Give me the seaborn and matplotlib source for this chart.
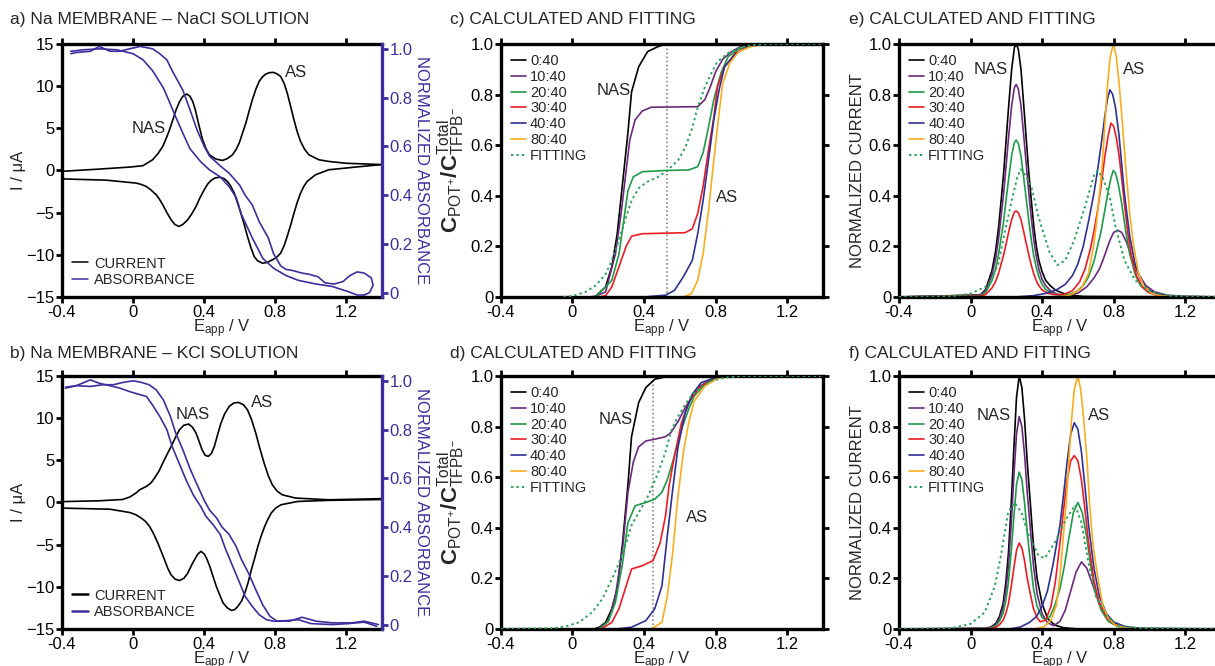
import numpy as np
import pandas as pd
import matplotlib
matplotlib.use("Agg")
import matplotlib.pyplot as plt
import seaborn as sns
from matplotlib.lines import Line2D

# ---------------- data ----------------
# a) Na membrane - NaCl solution, CV (forward / reverse) + absorbance (two branches)
a_fwd_E = [-0.40,-0.20,-0.02,0.055,0.11,0.14,0.167,0.19,0.205,0.225,0.242,0.26,0.279,0.302,0.32,0.335,0.35,0.363,0.377,0.391,0.41,0.429,0.466,0.503,0.53,0.559,0.58,0.597,0.615,0.634,0.652,0.671,0.69,0.709,0.728,0.746,0.768,0.789,0.81,0.83,0.85,0.867,0.886,0.905,0.923,0.942,0.965,0.989,1.045,1.10,1.20,1.40]
a_fwd_I = [-0.1,0.15,0.4,0.56,1.27,2.0,2.85,4.0,4.83,6.1,7.2,8.1,8.78,9.06,8.8,8.2,7.2,6.0,4.8,3.64,2.6,1.86,1.35,1.19,1.4,1.86,2.5,3.25,4.4,5.6,7.0,8.4,9.6,10.56,11.1,11.43,11.6,11.63,11.45,11.15,10.3,9.18,7.6,6.0,4.6,3.44,2.5,1.86,1.27,1.07,0.85,0.7]
a_rev_E = [1.40,1.25,1.10,1.026,0.979,0.96,0.942,0.923,0.905,0.886,0.867,0.85,0.83,0.805,0.783,0.755,0.727,0.70,0.681,0.662,0.643,0.625,0.606,0.587,0.569,0.55,0.531,0.51,0.485,0.46,0.438,0.42,0.40,0.377,0.354,0.33,0.307,0.28,0.257,0.235,0.214,0.19,0.167,0.148,0.13,0.10,0.074,0.045,0.018,-0.02,-0.15,-0.40]
a_rev_I = [0.7,0.4,0.08,-0.51,-1.3,-1.9,-2.68,-3.8,-5.06,-6.5,-7.8,-8.9,-9.8,-10.35,-10.6,-10.9,-11.0,-10.7,-10.2,-9.1,-7.8,-6.4,-5.06,-3.8,-2.68,-1.9,-1.3,-0.95,-0.79,-0.9,-1.19,-1.6,-2.29,-3.2,-4.27,-5.15,-5.85,-6.4,-6.64,-6.4,-5.85,-5.0,-4.07,-3.4,-2.88,-2.3,-1.9,-1.65,-1.5,-1.42,-1.15,-1.0]
a_abs1_E = [-0.35,-0.28,-0.19,-0.09,0.00,0.056,0.11,0.17,0.20,0.24,0.28,0.32,0.38,0.43,0.49,0.54,0.58,0.61,0.67,0.73,0.79,0.86,0.93,1.03,1.12,1.21,1.26,1.30]
a_abs1_A = [0.99,0.996,1.0,0.996,0.98,0.955,0.91,0.84,0.79,0.72,0.654,0.59,0.537,0.503,0.475,0.435,0.39,0.32,0.225,0.14,0.10,0.07,0.05,0.035,0.025,0.004,-0.01,-0.01]
a_abs2_E = [1.30,1.33,1.35,1.34,1.30,1.26,1.22,1.18,1.13,1.08,1.04,0.99,0.95,0.90,0.86,0.83,0.79,0.76,0.71,0.67,0.63,0.60,0.54,0.49,0.43,0.40,0.36,0.32,0.28,0.22,0.19,0.15,0.11,0.04,-0.02,-0.075,-0.13,-0.19,-0.24,-0.32,-0.35]
a_abs2_A = [-0.01,0.0,0.03,0.06,0.08,0.085,0.07,0.045,0.035,0.04,0.065,0.075,0.08,0.09,0.095,0.11,0.16,0.225,0.29,0.36,0.40,0.44,0.49,0.52,0.56,0.60,0.667,0.75,0.83,0.91,0.955,0.98,1.0,1.01,1.0,0.99,0.99,1.01,0.99,0.985,0.98]

# b) Na membrane - KCl solution
b_fwd_E = [-0.40,-0.19,-0.06,-0.019,0.015,0.037,0.074,0.10,0.121,0.145,0.167,0.19,0.214,0.238,0.261,0.285,0.313,0.335,0.354,0.372,0.388,0.405,0.423,0.44,0.457,0.475,0.494,0.515,0.541,0.567,0.593,0.62,0.643,0.665,0.69,0.713,0.737,0.76,0.783,0.81,0.839,0.914,1.10,1.40]
b_fwd_I = [0.1,0.2,0.35,0.64,1.1,1.5,1.9,2.3,2.9,3.7,4.67,5.65,6.64,7.7,8.62,9.15,9.3,8.9,8.23,7.2,6.25,5.6,5.46,5.8,6.64,8.0,9.4,10.5,11.4,11.8,11.86,11.6,11.0,9.9,8.23,6.4,4.67,3.2,2.1,1.35,0.91,0.52,0.32,0.45]
b_rev_E = [1.40,1.10,0.926,0.832,0.80,0.777,0.758,0.74,0.72,0.702,0.684,0.665,0.647,0.628,0.61,0.59,0.572,0.553,0.53,0.506,0.488,0.469,0.45,0.432,0.415,0.40,0.382,0.365,0.345,0.325,0.307,0.285,0.261,0.237,0.214,0.195,0.177,0.158,0.139,0.115,0.093,0.07,0.046,0.015,-0.019,-0.13,-0.40]
b_rev_I = [0.35,0.25,0.12,-0.27,-0.7,-1.26,-2.0,-2.85,-4.0,-5.2,-6.6,-8.0,-9.5,-10.75,-11.7,-12.3,-12.7,-12.8,-12.5,-11.9,-11.0,-10.0,-8.8,-7.6,-6.7,-6.1,-5.8,-6.1,-6.8,-7.6,-8.4,-9.0,-9.25,-9.1,-8.6,-7.8,-6.8,-5.8,-4.8,-3.7,-2.85,-2.25,-1.85,-1.45,-1.19,-0.8,-0.67]
b_abs1_E = [-0.38,-0.32,-0.24,-0.19,-0.13,-0.075,-0.02,0.04,0.075,0.11,0.15,0.19,0.22,0.26,0.30,0.34,0.38,0.41,0.45,0.49,0.52,0.56,0.60,0.63,0.67,0.71,0.75,0.79,0.86,0.93,1.00,1.12,1.21,1.30,1.37]
b_abs1_A = [0.97,0.98,1.004,0.99,0.98,0.97,0.956,0.943,0.936,0.90,0.854,0.80,0.73,0.66,0.59,0.53,0.485,0.444,0.41,0.37,0.31,0.24,0.17,0.116,0.075,0.04,0.02,0.014,0.016,0.02,0.004,0.0,0.004,0.01,-0.007]
b_abs2_E = [1.38,1.30,1.23,1.12,1.03,0.95,0.88,0.81,0.77,0.73,0.69,0.65,0.61,0.58,0.54,0.50,0.47,0.43,0.40,0.36,0.32,0.28,0.24,0.21,0.17,0.13,0.09,0.04,0.00,-0.06,-0.11,-0.17,-0.24,-0.32,-0.38]
b_abs2_A = [0.0,0.014,0.007,0.007,0.014,0.03,0.014,0.014,0.034,0.08,0.143,0.21,0.266,0.32,0.37,0.40,0.437,0.47,0.51,0.574,0.64,0.717,0.785,0.854,0.922,0.963,0.984,0.995,1.0,0.993,0.984,0.984,0.977,0.98,0.974]

ratios = ["0:40", "10:40", "20:40", "30:40", "40:40", "80:40"]

# c) calculated C_POT+/C_TFPB- (NaCl)
c_E = [
    [-0.4,0.10,0.13,0.185,0.22,0.25,0.28,0.31,0.33,0.37,0.42,0.48,0.527,1.4],
    [-0.4,0.12,0.185,0.24,0.27,0.30,0.32,0.35,0.39,0.44,0.70,0.74,0.77,0.80,0.84,0.89,0.94,1.03,1.4],
    [-0.4,0.13,0.22,0.26,0.29,0.31,0.34,0.39,0.52,0.65,0.70,0.73,0.76,0.79,0.83,0.87,0.93,1.00,1.4],
    [-0.4,0.15,0.185,0.22,0.26,0.30,0.33,0.39,0.63,0.67,0.70,0.73,0.76,0.79,0.81,0.85,0.91,0.98,1.07,1.4],
    [-0.4,0.40,0.52,0.57,0.62,0.67,0.70,0.73,0.76,0.79,0.82,0.85,0.91,0.98,1.07,1.4],
    [-0.4,0.62,0.665,0.70,0.73,0.76,0.79,0.82,0.84,0.88,0.93,1.00,1.07,1.4],
]
c_V = [
    [0,0,0.003,0.04,0.12,0.25,0.45,0.65,0.81,0.91,0.97,0.99,1.0,1.0],
    [0,0,0.02,0.17,0.32,0.5,0.62,0.70,0.735,0.75,0.752,0.78,0.83,0.89,0.94,0.97,0.99,1.0,1.0],
    [0,0,0.066,0.17,0.32,0.42,0.475,0.495,0.5,0.502,0.515,0.57,0.67,0.78,0.885,0.95,0.98,0.995,1.0],
    [0,0,0.005,0.04,0.12,0.2,0.24,0.25,0.254,0.27,0.33,0.436,0.58,0.71,0.83,0.91,0.964,0.99,1.0,1.0],
    [0,0,0.007,0.026,0.08,0.145,0.25,0.38,0.54,0.70,0.82,0.91,0.96,0.99,1.0,1.0],
    [0,0,0.013,0.066,0.17,0.34,0.54,0.73,0.845,0.925,0.97,0.99,1.0,1.0],
]
c_fit_E = [-0.05,0.0,0.074,0.13,0.185,0.22,0.26,0.30,0.33,0.37,0.42,0.48,0.53,0.59,0.63,0.67,0.70,0.74,0.78,0.81,0.87,0.93,1.0,1.1,1.4]
c_fit_V = [0,0.004,0.02,0.046,0.09,0.145,0.225,0.317,0.38,0.43,0.456,0.475,0.5,0.54,0.59,0.67,0.75,0.83,0.89,0.93,0.964,0.984,0.995,1.0,1.0]
c_cut = 0.527

# d) calculated (KCl)
d_E = [
    [-0.4,0.12,0.15,0.185,0.22,0.25,0.28,0.31,0.33,0.37,0.41,0.46,0.52,0.57,1.4],
    [-0.4,0.14,0.20,0.24,0.28,0.31,0.34,0.37,0.41,0.46,0.52,0.55,0.59,0.63,0.67,0.70,0.76,0.81,0.9,1.4],
    [-0.4,0.15,0.20,0.24,0.28,0.31,0.35,0.41,0.46,0.50,0.53,0.57,0.61,0.65,0.68,0.74,0.81,0.9,1.4],
    [-0.4,0.16,0.22,0.26,0.30,0.33,0.39,0.45,0.49,0.52,0.54,0.57,0.61,0.65,0.70,0.77,0.85,1.4],
    [-0.4,0.25,0.33,0.41,0.46,0.50,0.53,0.56,0.59,0.63,0.67,0.72,0.80,0.9,1.4],
    [-0.4,0.44,0.50,0.53,0.56,0.59,0.62,0.65,0.68,0.74,0.81,0.89,1.4],
]
d_V = [
    [0,0,0.007,0.026,0.08,0.16,0.34,0.57,0.76,0.895,0.954,0.987,0.996,1.0,1.0],
    [0,0,0.03,0.13,0.316,0.54,0.66,0.72,0.743,0.75,0.76,0.776,0.82,0.875,0.92,0.954,0.98,0.993,1.0,1.0],
    [0,0,0.03,0.105,0.26,0.42,0.487,0.5,0.513,0.54,0.59,0.684,0.79,0.87,0.92,0.967,0.993,1.0,1.0],
    [0,0,0.026,0.08,0.17,0.237,0.25,0.27,0.34,0.447,0.566,0.684,0.816,0.895,0.947,0.987,0.998,1.0],
    [0,0,0.007,0.033,0.08,0.17,0.368,0.55,0.72,0.855,0.928,0.974,0.993,1.0,1.0],
    [0,0,0.026,0.13,0.30,0.526,0.70,0.816,0.90,0.96,0.99,1.0,1.0],
]
d_fit_E = [-0.4,-0.11,-0.04,0.037,0.11,0.166,0.22,0.26,0.30,0.33,0.37,0.41,0.44,0.48,0.52,0.55,0.59,0.65,0.70,0.77,0.85,0.95,1.4]
d_fit_V = [0,0.003,0.01,0.026,0.066,0.118,0.197,0.26,0.34,0.41,0.46,0.507,0.553,0.62,0.70,0.78,0.84,0.91,0.947,0.98,0.993,1.0,1.0]
d_cut = 0.452

# e) normalized current (NaCl)
e_E = [
    [-0.4,0.055,0.085,0.12,0.14,0.157,0.171,0.185,0.199,0.213,0.23,0.245,0.255,0.267,0.282,0.298,0.312,0.326,0.34,0.354,0.368,0.382,0.40,0.42,0.445,0.475,0.515,0.555,0.635,1.4],
    [-0.4,0.055,0.085,0.12,0.14,0.157,0.171,0.185,0.199,0.213,0.23,0.245,0.255,0.267,0.282,0.298,0.312,0.326,0.34,0.354,0.368,0.382,0.40,0.42,0.45,0.49,0.54,0.60,0.65,0.69,0.72,0.74,0.76,0.78,0.80,0.822,0.845,0.87,0.89,0.91,0.94,0.98,1.03,1.1,1.2,1.4],
    [-0.4,0.055,0.085,0.12,0.14,0.157,0.171,0.185,0.199,0.213,0.23,0.245,0.255,0.267,0.282,0.298,0.312,0.326,0.34,0.354,0.368,0.382,0.40,0.42,0.45,0.49,0.54,0.59,0.63,0.66,0.69,0.71,0.73,0.75,0.77,0.785,0.798,0.81,0.825,0.845,0.87,0.89,0.92,0.95,0.99,1.04,1.1,1.4],
    [-0.4,0.055,0.085,0.12,0.14,0.157,0.171,0.185,0.199,0.213,0.23,0.245,0.255,0.267,0.282,0.298,0.312,0.326,0.34,0.354,0.368,0.382,0.40,0.43,0.47,0.52,0.57,0.61,0.64,0.67,0.69,0.71,0.73,0.75,0.77,0.785,0.80,0.815,0.83,0.845,0.86,0.88,0.90,0.93,0.96,1.0,1.05,1.12,1.4],
    [-0.4,0.25,0.35,0.42,0.48,0.53,0.57,0.60,0.63,0.66,0.69,0.71,0.73,0.75,0.765,0.779,0.795,0.81,0.83,0.86,0.89,0.92,0.95,0.99,1.04,1.1,1.2,1.4],
    [-0.4,0.5,0.56,0.62,0.66,0.69,0.71,0.734,0.75,0.765,0.78,0.798,0.815,0.83,0.85,0.869,0.89,0.91,0.94,0.97,1.01,1.06,1.13,1.2,1.4],
]
e_V = [
    [0,0.008,0.03,0.105,0.18,0.277,0.38,0.489,0.62,0.753,0.9,0.985,1.0,0.98,0.9,0.753,0.62,0.489,0.38,0.277,0.2,0.145,0.1,0.066,0.045,0.027,0.015,0.007,0.002,0],
    [0,0.007,0.025,0.088,0.15,0.233,0.32,0.41,0.52,0.633,0.756,0.827,0.84,0.823,0.756,0.633,0.52,0.41,0.31,0.225,0.16,0.11,0.07,0.045,0.022,0.01,0.006,0.015,0.04,0.075,0.11,0.145,0.185,0.225,0.255,0.264,0.255,0.22,0.18,0.14,0.09,0.045,0.02,0.007,0.002,0],
    [0,0.005,0.019,0.065,0.11,0.17,0.235,0.3,0.385,0.467,0.56,0.61,0.62,0.607,0.558,0.467,0.385,0.3,0.225,0.16,0.115,0.08,0.05,0.03,0.015,0.008,0.008,0.02,0.045,0.08,0.14,0.2,0.26,0.34,0.42,0.47,0.5,0.49,0.45,0.37,0.25,0.17,0.09,0.045,0.02,0.007,0.002,0],
    [0,0.003,0.01,0.036,0.061,0.094,0.13,0.166,0.21,0.256,0.306,0.335,0.34,0.333,0.306,0.256,0.21,0.166,0.125,0.09,0.063,0.045,0.028,0.015,0.009,0.01,0.025,0.06,0.11,0.19,0.26,0.34,0.44,0.55,0.64,0.687,0.675,0.63,0.56,0.47,0.37,0.25,0.16,0.08,0.04,0.016,0.006,0.002,0],
    [0,0,0.005,0.014,0.028,0.05,0.085,0.13,0.2,0.3,0.41,0.5,0.6,0.71,0.78,0.819,0.8,0.75,0.64,0.41,0.24,0.13,0.07,0.03,0.012,0.004,0.001,0],
    [0,0,0.008,0.035,0.094,0.21,0.33,0.5,0.67,0.83,0.946,1.0,0.95,0.85,0.68,0.5,0.33,0.21,0.09,0.043,0.015,0.005,0.001,0,0],
]
e_fit_E = [-0.4,-0.1,0.0,0.1,0.155,0.19,0.23,0.26,0.28,0.30,0.34,0.38,0.44,0.485,0.53,0.58,0.64,0.69,0.71,0.74,0.78,0.81,0.86,0.92,1.0,1.11,1.4]
e_fit_V = [0,0.003,0.013,0.046,0.13,0.25,0.38,0.47,0.505,0.49,0.436,0.317,0.18,0.126,0.145,0.225,0.357,0.48,0.5,0.47,0.39,0.28,0.145,0.066,0.024,0.005,0]

# f) normalized current (KCl)
f_E = [
    [-0.4,0.08,0.112,0.142,0.162,0.182,0.197,0.212,0.228,0.242,0.257,0.272,0.287,0.302,0.317,0.334,0.352,0.372,0.40,0.432,0.472,0.52,0.6,1.4],
    [-0.4,0.08,0.112,0.142,0.162,0.182,0.197,0.212,0.228,0.242,0.257,0.272,0.287,0.302,0.317,0.334,0.352,0.372,0.40,0.43,0.465,0.50,0.53,0.56,0.59,0.62,0.65,0.68,0.72,0.76,0.8,0.87,1.0,1.4],
    [-0.4,0.08,0.112,0.142,0.162,0.182,0.197,0.212,0.228,0.242,0.257,0.272,0.287,0.302,0.317,0.334,0.352,0.372,0.40,0.42,0.445,0.47,0.50,0.525,0.55,0.575,0.60,0.625,0.65,0.672,0.70,0.73,0.77,0.82,0.9,1.4],
    [-0.4,0.08,0.112,0.142,0.162,0.182,0.197,0.212,0.228,0.242,0.257,0.272,0.287,0.302,0.317,0.334,0.352,0.372,0.39,0.42,0.45,0.475,0.50,0.52,0.54,0.56,0.58,0.60,0.62,0.64,0.66,0.69,0.72,0.76,0.8,0.86,0.95,1.4],
    [-0.4,0.22,0.28,0.33,0.37,0.40,0.43,0.46,0.48,0.50,0.52,0.54,0.56,0.58,0.60,0.62,0.64,0.66,0.69,0.72,0.76,0.8,0.86,0.95,1.4],
    [-0.4,0.36,0.41,0.45,0.48,0.50,0.515,0.535,0.55,0.565,0.58,0.60,0.615,0.63,0.65,0.665,0.685,0.71,0.74,0.77,0.81,0.86,0.93,1.4],
]
f_V = [
    [0,0.002,0.007,0.022,0.05,0.1,0.18,0.3,0.5,0.71,0.915,1.0,0.955,0.83,0.66,0.5,0.33,0.2,0.1,0.04,0.015,0.005,0,0],
    [0,0.002,0.006,0.018,0.042,0.084,0.15,0.25,0.42,0.6,0.77,0.84,0.8,0.69,0.54,0.4,0.25,0.14,0.06,0.025,0.013,0.03,0.075,0.15,0.225,0.265,0.24,0.18,0.105,0.05,0.025,0.007,0,0],
    [0,0.001,0.004,0.014,0.031,0.062,0.11,0.186,0.31,0.44,0.57,0.62,0.59,0.5,0.38,0.27,0.16,0.09,0.045,0.035,0.05,0.09,0.16,0.25,0.36,0.46,0.5,0.46,0.36,0.25,0.14,0.075,0.03,0.01,0.002,0],
    [0,0.001,0.002,0.007,0.017,0.034,0.061,0.1,0.17,0.24,0.31,0.34,0.32,0.27,0.2,0.14,0.08,0.045,0.028,0.035,0.09,0.19,0.34,0.47,0.59,0.665,0.685,0.665,0.59,0.47,0.34,0.19,0.1,0.045,0.02,0.006,0,0],
    [0,0,0.008,0.026,0.05,0.09,0.15,0.25,0.33,0.41,0.53,0.66,0.77,0.815,0.79,0.7,0.56,0.41,0.24,0.13,0.06,0.028,0.01,0.002,0],
    [0,0,0.008,0.035,0.094,0.21,0.33,0.5,0.67,0.83,0.946,1.0,0.95,0.85,0.68,0.5,0.33,0.21,0.09,0.043,0.015,0.005,0.001,0],
]
f_fit_E = [-0.4,-0.15,-0.1,0.0,0.08,0.136,0.17,0.21,0.245,0.285,0.32,0.38,0.415,0.47,0.53,0.585,0.62,0.66,0.70,0.76,0.83,0.95,1.4]
f_fit_V = [0,0.002,0.004,0.02,0.066,0.17,0.29,0.46,0.5,0.46,0.38,0.29,0.28,0.34,0.43,0.49,0.42,0.26,0.13,0.05,0.013,0.003,0]

# ---------------- style ----------------
sns.set_theme(style="ticks")
plt.rcParams['font.family'] = ['Liberation Sans', 'DejaVu Sans']
plt.rcParams['mathtext.fontset'] = 'custom'
plt.rcParams['mathtext.rm'] = 'Liberation Sans'
plt.rcParams['mathtext.it'] = 'Liberation Sans:italic'
plt.rcParams['mathtext.bf'] = 'Liberation Sans:bold'

colors = ["#000000", "#6a2a7c", "#1e9a48", "#ec1c24", "#2e3192", "#f9ad1e"]
fit_color = "#2aa35a"
abs_color = "#3b2f9e"
FS = 12

fig = plt.figure(figsize=(12.15, 6.66), dpi=100)
top_b, bot_b, h = 0.5541, 0.0556, 0.3799
ax_a = fig.add_axes([0.0510, top_b, 0.2634, h])
ax_b = fig.add_axes([0.0510, bot_b, 0.2634, h])
ax_c = fig.add_axes([0.4123, top_b, 0.2650, h])
ax_d = fig.add_axes([0.4123, bot_b, 0.2650, h])
ax_e = fig.add_axes([0.7399, top_b, 0.2650, h])
ax_f = fig.add_axes([0.7399, bot_b, 0.2650, h])

xt = [-0.4, 0, 0.4, 0.8, 1.2]
xtl = ["-0.4", "0", "0.4", "0.8", "1.2"]
yt01 = [0, 0.2, 0.4, 0.6, 0.8, 1.0]
yt01l = ["0", "0.2", "0.4", "0.6", "0.8", "1.0"]


def style_axes(ax):
    for s in ax.spines.values():
        s.set_linewidth(2.4)
        s.set_color("black")
    ax.tick_params(axis="both", direction="out", length=4, width=2, labelsize=FS,
                   top=True, right=True, pad=1.5, colors="black")
    ax.set_xlim(-0.4, 1.4)
    ax.set_xticks(xt, xtl)
    ax.set_xlabel(r"E$_{\mathrm{app}}$ / V", fontsize=FS, labelpad=-1.5)


# ---------------- CV panels ----------------
def cv_panel(ax, fE, fI, rE, rI, a1E, a1A, a2E, a2A, nas, asp, leg_lw):
    sns.lineplot(x=fE, y=fI, sort=False, estimator=None, ax=ax, color="black", lw=1.2)
    sns.lineplot(x=rE, y=rI, sort=False, estimator=None, ax=ax, color="black", lw=1.2)
    style_axes(ax)
    ax.tick_params(right=False)
    ax.spines["right"].set_visible(False)
    ax.set_ylim(-15, 15)
    ax.set_yticks([-15, -10, -5, 0, 5, 10, 15])
    ax.set_ylabel("I / μA", fontsize=FS, labelpad=0)
    ax.text(nas[0], nas[1], "NAS", fontsize=FS, ha="center", va="center")
    ax.text(asp[0], asp[1], "AS", fontsize=FS, ha="center", va="center")
    ax2 = ax.twinx()
    sns.lineplot(x=a1E, y=a1A, sort=False, estimator=None, ax=ax2, color=abs_color, lw=1.2)
    sns.lineplot(x=a2E, y=a2A, sort=False, estimator=None, ax=ax2, color=abs_color, lw=1.2)
    ax2.set_ylim(-0.018, 1.02)
    ax2.set_yticks(yt01, yt01l)
    for k in ["left", "top", "bottom"]:
        ax2.spines[k].set_visible(False)
    ax2.spines["right"].set_linewidth(2.4)
    ax2.spines["right"].set_color(abs_color)
    ax2.tick_params(axis="y", direction="out", length=4, width=2, labelsize=FS,
                    colors=abs_color, pad=1.5)
    ax2.set_ylabel("NORMALIZED ABSORBANCE", fontsize=FS, color=abs_color,
                   rotation=270, labelpad=12)
    ax2.set_xlim(-0.4, 1.4)
    handles = [Line2D([], [], color="black", lw=leg_lw), Line2D([], [], color=abs_color, lw=leg_lw)]
    ax.legend(handles, ["CURRENT", "ABSORBANCE"], loc="lower left", frameon=False,
              fontsize=10.5, handlelength=1.1, handletextpad=0.4, labelspacing=0.15,
              borderaxespad=0.3)


cv_panel(ax_a, a_fwd_E, a_fwd_I, a_rev_E, a_rev_I, a_abs1_E, a_abs1_A, a_abs2_E, a_abs2_A,
         (0.09, 5.0), (0.915, 11.6), 1.1)
cv_panel(ax_b, b_fwd_E, b_fwd_I, b_rev_E, b_rev_I, b_abs1_E, b_abs1_A, b_abs2_E, b_abs2_A,
         (0.335, 10.4), (0.725, 11.8), 1.8)


# ---------------- calculated panels ----------------
def calc_panel(ax, Es, Vs, fitE, fitV, cut, nas, asp, ylabel):
    if cut is not None:
        ax.axvline(cut, ymin=0, ymax=1, color="#777777", ls=":", lw=1.1)
    for E, V, col, lab in zip(Es, Vs, colors, ratios):
        sns.lineplot(x=E, y=V, sort=False, estimator=None, ax=ax, color=col, lw=1.2, label=lab)
    sns.lineplot(x=fitE, y=fitV, sort=False, estimator=None, ax=ax, color=fit_color,
                 lw=1.4, ls=(0, (1.2, 1.6)), label="FITTING", zorder=3)
    style_axes(ax)
    ax.set_ylim(0, 1.0)
    ax.set_yticks(yt01, yt01l)
    ax.set_ylabel(ylabel, fontsize=FS if "NORMAL" in ylabel else 16, labelpad=2)
    ax.text(nas[0], nas[1], "NAS", fontsize=FS, ha="center", va="center")
    ax.text(asp[0], asp[1], "AS", fontsize=FS, ha="center", va="center")
    ax.legend(loc="upper left", frameon=False, fontsize=10.5, handlelength=1.0,
              handletextpad=0.3, labelspacing=0.12, borderaxespad=0.3)


c_lab = r"$\mathbf{C}_{\mathrm{POT^{+}}}\mathbf{/C}_{\mathrm{TFPB^{-}}}^{\mathrm{Total}}$"
calc_panel(ax_c, c_E, c_V, c_fit_E, c_fit_V, c_cut, (0.23, 0.815), (0.865, 0.395), c_lab)
calc_panel(ax_d, d_E, d_V, d_fit_E, d_fit_V, d_cut, (0.24, 0.826), (0.695, 0.44), c_lab)
calc_panel(ax_e, e_E, e_V, e_fit_E, e_fit_V, None, (0.115, 0.9), (0.915, 0.9), "NORMALIZED CURRENT")
calc_panel(ax_f, f_E, f_V, f_fit_E, f_fit_V, None, (0.13, 0.845), (0.72, 0.845), "NORMALIZED CURRENT")

# ---------------- titles ----------------
tfs = 12.5
fig.text(0.008, 0.970, "a) Na MEMBRANE – NaCl SOLUTION", fontsize=tfs, va="center")
fig.text(0.008, 0.469, "b) Na MEMBRANE – KCl SOLUTION", fontsize=tfs, va="center")
fig.text(0.370, 0.970, "c) CALCULATED AND FITTING", fontsize=tfs, va="center")
fig.text(0.370, 0.469, "d) CALCULATED AND FITTING", fontsize=tfs, va="center")
fig.text(0.699, 0.970, "e) CALCULATED AND FITTING", fontsize=tfs, va="center")
fig.text(0.699, 0.469, "f) CALCULATED AND FITTING", fontsize=tfs, va="center")

fig.savefig("out.png", dpi=100, facecolor="white")
